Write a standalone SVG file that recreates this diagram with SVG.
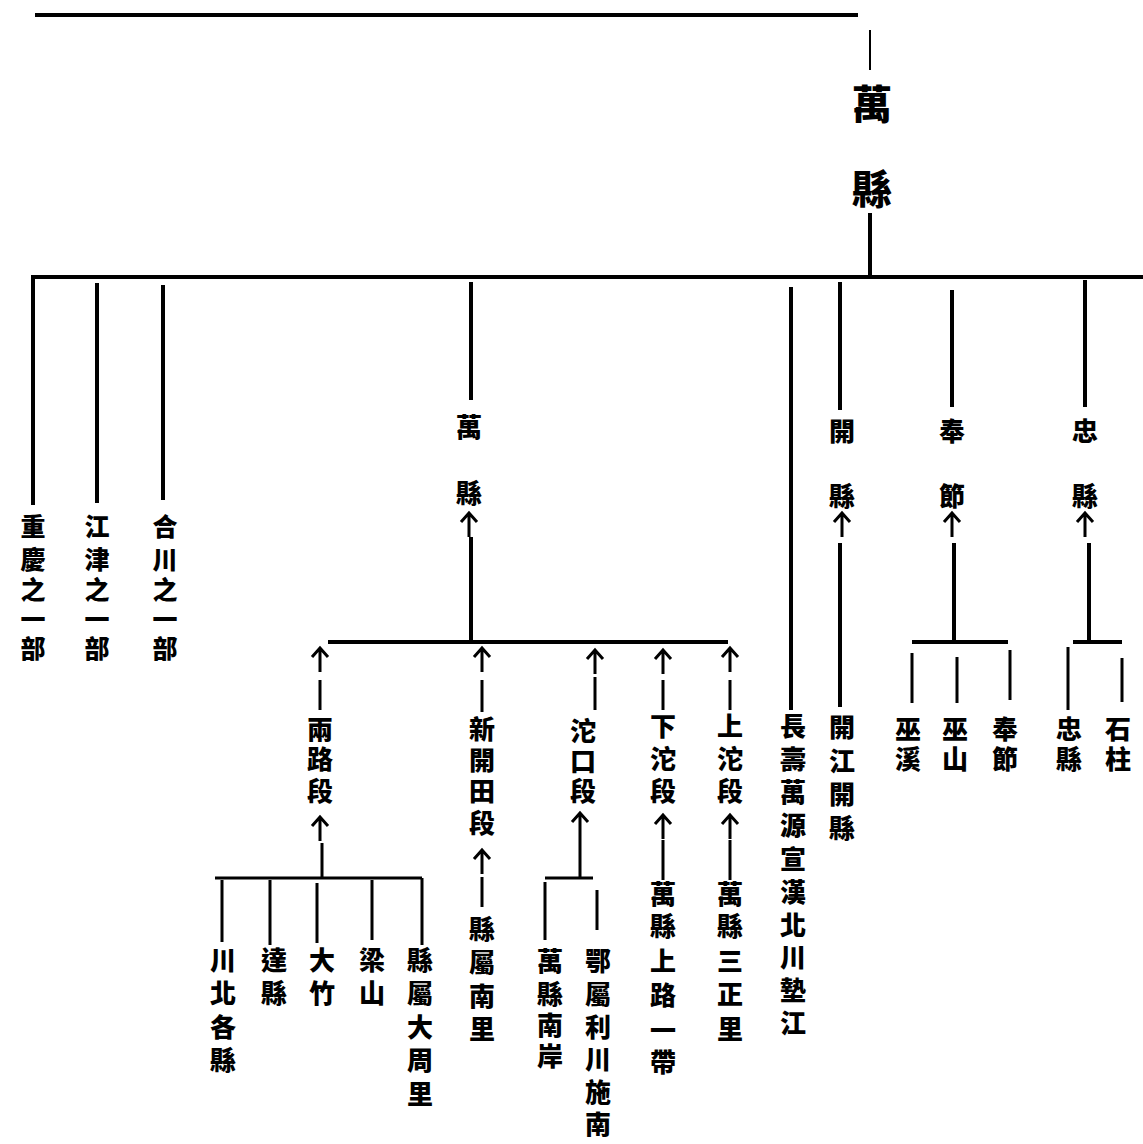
<svg xmlns="http://www.w3.org/2000/svg" width="1143" height="1144" viewBox="0 0 1143 1144">
<style>
.t{font-family:"Liberation Sans","Noto Sans CJK TC","Noto Sans CJK SC",sans-serif;font-weight:900;font-size:26px;fill:#000;text-anchor:middle;dominant-baseline:central}
.s{font-size:25px}
.big{font-size:40px}
.ln{stroke:#000;stroke-width:4;fill:none;stroke-linecap:butt}
.th{stroke-width:3}
.fine{stroke-width:2}
</style>
<defs>
<g id="arr"><path d="M-8,9 L0,0 L8,9 M0,0 V24" stroke="#000" stroke-width="3" fill="none"/></g>
</defs>
<rect width="1143" height="1144" fill="#fff"/>
<g id="connectors">
<path class="ln" d="M35,15 H858"/>
<path class="ln fine" d="M870,30 V70"/>
<path class="ln" d="M870,213 V277"/>
<path class="ln" d="M31,277 H1143"/>
<path class="ln" d="M33,277 V505 M97,283 V503 M163,285 V500"/>
<path class="ln" d="M471,282 V400 M471,537 V642 M328,642 H728"/>
<use href="#arr" x="469" y="513"/>
<use href="#arr" x="320" y="648"/><path class="ln th" d="M320,680 V710"/>
<use href="#arr" x="320" y="817"/><path class="ln th" d="M322,843 V878 M215,878 H422"/>
<path class="ln th" d="M222,880 V942 M270,880 V945 M317,883 V943 M372,880 V940 M422,878 V945"/>
<use href="#arr" x="482" y="648"/><path class="ln th" d="M482,680 V712"/>
<use href="#arr" x="482" y="850"/><path class="ln th" d="M482,877 V907"/>
<use href="#arr" x="595" y="650"/><path class="ln th" d="M595,677 V710"/>
<use href="#arr" x="580" y="813"/><path class="ln th" d="M580,837 V878 M545,878 H593"/>
<path class="ln th" d="M545,882 V940 M597,890 V930"/>
<use href="#arr" x="663" y="650"/><path class="ln th" d="M663,680 V710"/>
<use href="#arr" x="663" y="815"/><path class="ln th" d="M663,840 V880"/>
<use href="#arr" x="730" y="648"/><path class="ln th" d="M730,680 V710"/>
<use href="#arr" x="730" y="815"/><path class="ln th" d="M730,840 V880"/>
<path class="ln" d="M791,287 V710"/>
<path class="ln" d="M840,282 V410 M840,543 V707"/>
<use href="#arr" x="842" y="513"/>
<path class="ln" d="M952,290 V407 M954,543 V642 M912,642 H1008"/>
<use href="#arr" x="952" y="513"/>
<path class="ln th" d="M912,653 V703 M957,657 V703 M1010,650 V700"/>
<path class="ln" d="M1085,280 V407 M1089,543 V642 M1073,642 H1122"/>
<use href="#arr" x="1085" y="513"/>
<path class="ln th" d="M1068,647 V710 M1122,658 V702"/>
</g>
<g id="n-wanxian-top"><text class="t big"><tspan x="872" y="105">萬</tspan><tspan x="872" y="190">縣</tspan></text></g>
<g id="n-chongqing"><text class="t s"><tspan x="33" y="527">重</tspan><tspan x="33" y="560">慶</tspan><tspan x="33" y="590">之</tspan><tspan x="33" y="620">一</tspan><tspan x="33" y="649">部</tspan></text></g>
<g id="n-jiangjin"><text class="t s"><tspan x="97" y="527">江</tspan><tspan x="97" y="560">津</tspan><tspan x="97" y="590">之</tspan><tspan x="97" y="620">一</tspan><tspan x="97" y="649">部</tspan></text></g>
<g id="n-hechuan"><text class="t s"><tspan x="165" y="527">合</tspan><tspan x="165" y="560">川</tspan><tspan x="165" y="590">之</tspan><tspan x="165" y="620">一</tspan><tspan x="165" y="649">部</tspan></text></g>
<g id="n-wanxian"><text class="t"><tspan x="469" y="428">萬</tspan><tspan x="469" y="494">縣</tspan></text></g>
<g id="n-lianglu"><text class="t"><tspan x="320" y="730">兩</tspan><tspan x="320" y="760">路</tspan><tspan x="320" y="792">段</tspan></text></g>
<g id="n-chuanbei"><text class="t"><tspan x="223" y="961">川</tspan><tspan x="223" y="994">北</tspan><tspan x="223" y="1028">各</tspan><tspan x="223" y="1061">縣</tspan></text></g>
<g id="n-daxian"><text class="t"><tspan x="274" y="961">達</tspan><tspan x="274" y="994">縣</tspan></text></g>
<g id="n-dazhu"><text class="t"><tspan x="322" y="961">大</tspan><tspan x="322" y="994">竹</tspan></text></g>
<g id="n-liangshan"><text class="t"><tspan x="372" y="961">梁</tspan><tspan x="372" y="994">山</tspan></text></g>
<g id="n-dazhouli"><text class="t"><tspan x="420" y="961">縣</tspan><tspan x="420" y="994">屬</tspan><tspan x="420" y="1028">大</tspan><tspan x="420" y="1061">周</tspan><tspan x="420" y="1095">里</tspan></text></g>
<g id="n-xinkaitian"><text class="t"><tspan x="482" y="730">新</tspan><tspan x="482" y="761">開</tspan><tspan x="482" y="792">田</tspan><tspan x="482" y="824">段</tspan></text></g>
<g id="n-nanli"><text class="t"><tspan x="482" y="930">縣</tspan><tspan x="482" y="963">屬</tspan><tspan x="482" y="997">南</tspan><tspan x="482" y="1030">里</tspan></text></g>
<g id="n-tuokou"><text class="t"><tspan x="583" y="732">沱</tspan><tspan x="583" y="762">口</tspan><tspan x="583" y="792">段</tspan></text></g>
<g id="n-nanan"><text class="t"><tspan x="550" y="962">萬</tspan><tspan x="550" y="995">縣</tspan><tspan x="550" y="1026">南</tspan><tspan x="550" y="1057">岸</tspan></text></g>
<g id="n-eshu"><text class="t"><tspan x="598" y="962">鄂</tspan><tspan x="598" y="995">屬</tspan><tspan x="598" y="1028">利</tspan><tspan x="598" y="1060">川</tspan><tspan x="598" y="1093">施</tspan><tspan x="598" y="1125">南</tspan></text></g>
<g id="n-xiatuo"><text class="t"><tspan x="663" y="727">下</tspan><tspan x="663" y="760">沱</tspan><tspan x="663" y="792">段</tspan></text></g>
<g id="n-shanglu"><text class="t"><tspan x="663" y="895">萬</tspan><tspan x="663" y="927">縣</tspan><tspan x="663" y="962">上</tspan><tspan x="663" y="996">路</tspan><tspan x="663" y="1031">一</tspan><tspan x="663" y="1063">帶</tspan></text></g>
<g id="n-shangtuo"><text class="t"><tspan x="730" y="727">上</tspan><tspan x="730" y="760">沱</tspan><tspan x="730" y="792">段</tspan></text></g>
<g id="n-sanzheng"><text class="t"><tspan x="730" y="895">萬</tspan><tspan x="730" y="927">縣</tspan><tspan x="730" y="962">三</tspan><tspan x="730" y="995">正</tspan><tspan x="730" y="1030">里</tspan></text></g>
<g id="n-changshou"><text class="t"><tspan x="793" y="727">長</tspan><tspan x="793" y="760">壽</tspan><tspan x="793" y="793">萬</tspan><tspan x="793" y="826">源</tspan><tspan x="793" y="860">宣</tspan><tspan x="793" y="893">漢</tspan><tspan x="793" y="926">北</tspan><tspan x="793" y="958">川</tspan><tspan x="793" y="991">墊</tspan><tspan x="793" y="1024">江</tspan></text></g>
<g id="n-kaixian"><text class="t"><tspan x="842" y="432">開</tspan><tspan x="842" y="497">縣</tspan></text></g>
<g id="n-kaijiang"><text class="t"><tspan x="842" y="728">開</tspan><tspan x="842" y="762">江</tspan><tspan x="842" y="795">開</tspan><tspan x="842" y="829">縣</tspan></text></g>
<g id="n-fengjie"><text class="t"><tspan x="952" y="432">奉</tspan><tspan x="952" y="497">節</tspan></text></g>
<g id="n-wuxi"><text class="t"><tspan x="908" y="730">巫</tspan><tspan x="908" y="760">溪</tspan></text></g>
<g id="n-wushan"><text class="t"><tspan x="955" y="730">巫</tspan><tspan x="955" y="760">山</tspan></text></g>
<g id="n-fengjie2"><text class="t"><tspan x="1005" y="730">奉</tspan><tspan x="1005" y="760">節</tspan></text></g>
<g id="n-zhongxian"><text class="t"><tspan x="1085" y="432">忠</tspan><tspan x="1085" y="497">縣</tspan></text></g>
<g id="n-zhongxian2"><text class="t"><tspan x="1069" y="730">忠</tspan><tspan x="1069" y="760">縣</tspan></text></g>
<g id="n-shizhu"><text class="t"><tspan x="1118" y="730">石</tspan><tspan x="1118" y="760">柱</tspan></text></g>
</svg>
